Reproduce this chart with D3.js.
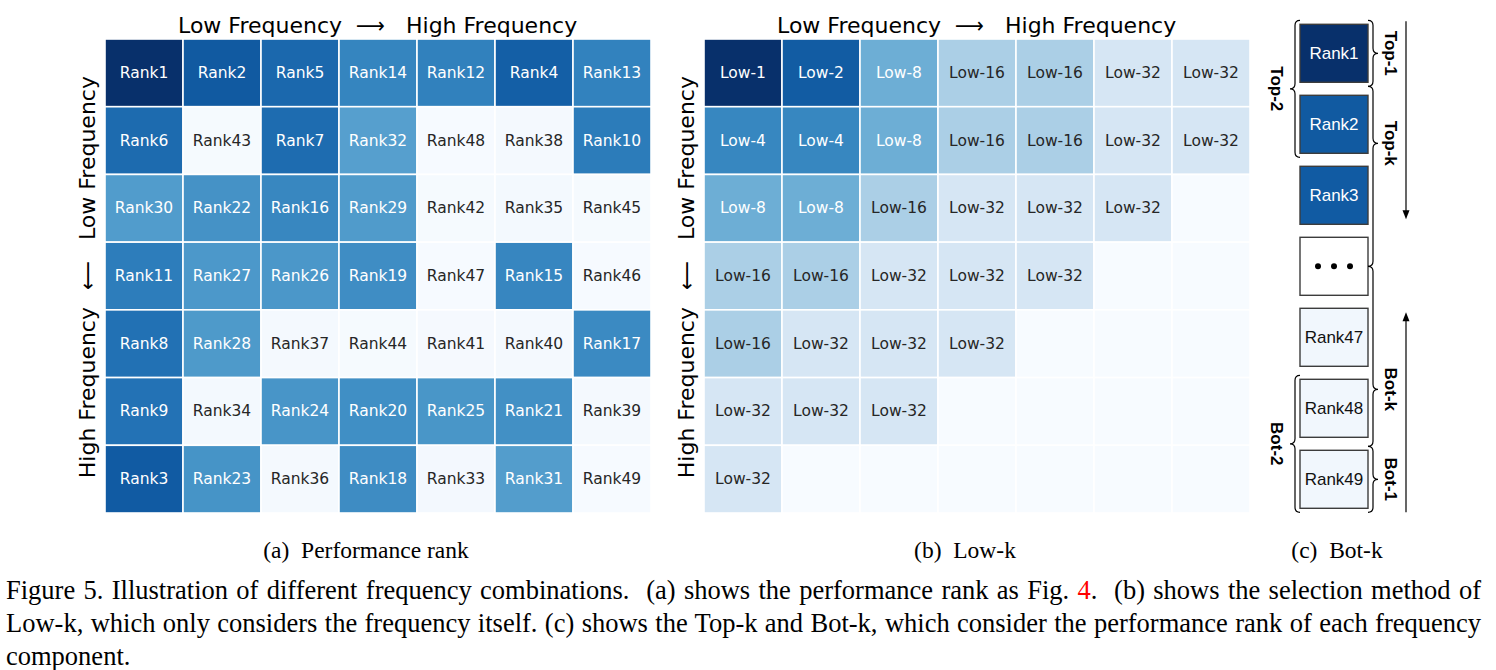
<!DOCTYPE html>
<html>
<head>
<meta charset="utf-8">
<script src="https://cdn.jsdelivr.net/npm/d3@7"></script>
<style>
  html, body { margin: 0; padding: 0; background: #fff; }
  svg { display: block; }
</style>
</head>
<body>
<script>
// ---------------- DATA ----------------
// (a) performance rank of each (row = vertical freq, col = horizontal freq)
const rankMatrix = [
  [1, 2, 5, 14, 12, 4, 13],
  [6, 43, 7, 32, 48, 38, 10],
  [30, 22, 16, 29, 42, 35, 45],
  [11, 27, 26, 19, 47, 15, 46],
  [8, 28, 37, 44, 41, 40, 17],
  [9, 34, 24, 20, 25, 21, 39],
  [3, 23, 36, 18, 33, 31, 49]
];
// colour intensity (0..1 on the Blues map) read for rank 1 .. 49
const scoreByRank = [
  1.00, 0.84, 0.835, 0.82, 0.785, 0.775, 0.77, 0.75, 0.745, 0.71,
  0.705, 0.69, 0.685, 0.675, 0.67, 0.665, 0.655, 0.645, 0.64, 0.635,
  0.63, 0.62, 0.615, 0.61, 0.605, 0.60, 0.595, 0.59, 0.585, 0.58,
  0.575, 0.565, 0.02, 0.019, 0.018, 0.017, 0.016, 0.015, 0.014, 0.013,
  0.012, 0.011, 0.01, 0.009, 0.008, 0.007, 0.006, 0.005, 0.004
];
// (b) Low-k selection (null = not selected)
const lowKMatrix = [
  [1, 2, 8, 16, 16, 32, 32],
  [4, 4, 8, 16, 16, 32, 32],
  [8, 8, 16, 32, 32, 32, null],
  [16, 16, 32, 32, 32, null, null],
  [16, 32, 32, 32, null, null, null],
  [32, 32, 32, null, null, null, null],
  [32, null, null, null, null, null, null]
];
// (c) ranked boxes
const boxRanks = [1, 2, 3, null, 47, 48, 49];
// braces: label, side, first box, last box, kind of span
const braces = [
  { label: "Top-1", side: "right", from: 0, to: 0, kind: "box" },
  { label: "Top-2", side: "left", from: 0, to: 1, kind: "box" },
  { label: "Top-k", side: "right", from: 0, to: 3, kind: "topk" },
  { label: "Bot-k", side: "right", from: 3, to: 6, kind: "botk" },
  { label: "Bot-1", side: "right", from: 6, to: 6, kind: "box" },
  { label: "Bot-2", side: "left", from: 5, to: 6, kind: "box" }
];
const axisLow = "Low Frequency", axisHigh = "High Frequency";
const subCaptions = ["(a)  Performance rank", "(b)  Low-k", "(c)  Bot-k"];
const captionLines = [
  [["Figure 5. Illustration of different frequency combinations.  (a) shows the performance rank as Fig. ", "#000"], ["4", "#ff0000"], [".  (b) shows the selection method of", "#000"]],
  [["Low-k, which only considers the frequency itself. (c) shows the Top-k and Bot-k, which consider the performance rank of each frequency", "#000"]],
  [["component.", "#000"]]
];

// ---------------- DRAW ----------------
const W = 1496, H = 670;
const svg = d3.select("body").append("svg").attr("width", W).attr("height", H);
const blues = d3.interpolateBlues;
const cellFont = "'DejaVu Sans', sans-serif";

function heatmap(x0, x1, y0, y1, matrix, valueFn, labelFn) {
  const xs = d3.scaleBand().domain(d3.range(7)).range([x0, x1]);
  const ys = d3.scaleBand().domain(d3.range(7)).range([y0, y1]);
  const g = svg.append("g");
  const cells = [];
  matrix.forEach((row, r) => row.forEach((v, c) => cells.push({ r, c, v })));
  g.selectAll("rect").data(cells).join("rect")
    .attr("x", d => xs(d.c)).attr("y", d => ys(d.r))
    .attr("width", xs.bandwidth()).attr("height", ys.bandwidth())
    .attr("fill", d => blues(valueFn(d.v)))
    .attr("stroke", "#fff").attr("stroke-width", 1.6);
  g.selectAll("text").data(cells.filter(d => labelFn(d.v) !== null)).join("text")
    .attr("x", d => xs(d.c) + xs.bandwidth() / 2)
    .attr("y", d => ys(d.r) + ys.bandwidth() / 2)
    .attr("text-anchor", "middle").attr("dominant-baseline", "central")
    .attr("font-family", cellFont).attr("font-size", 15.5)
    .attr("fill", d => valueFn(d.v) > 0.45 ? "#ffffff" : "#262626")
    .text(d => labelFn(d.v));

  // top title
  const cx = (x0 + x1) / 2;
  const tg = svg.append("g").attr("font-family", cellFont).attr("font-size", 22).attr("fill", "#000");
  tg.append("text").attr("x", cx - 36).attr("y", 33).attr("text-anchor", "end").text(axisLow);
  tg.append("text").attr("x", cx - 22).attr("y", 33).attr("textLength", 29).attr("lengthAdjust", "spacingAndGlyphs").text("\u27F6");
  tg.append("text").attr("x", cx + 28).attr("y", 33).attr("text-anchor", "start").text(axisHigh);
  // left title (rotated)
  const cy = (y0 + y1) / 2;
  const lg = svg.append("g").attr("transform", `translate(${x0 - 10},${cy}) rotate(-90)`)
    .attr("font-family", cellFont).attr("font-size", 22).attr("fill", "#000");
  lg.append("text").attr("x", -31).attr("y", 0).attr("text-anchor", "end").text(axisHigh);
  lg.append("text").attr("x", -14).attr("y", 0).attr("textLength", 29).attr("lengthAdjust", "spacingAndGlyphs").text("\u27F5");
  lg.append("text").attr("x", 36).attr("y", 0).attr("text-anchor", "start").text(axisLow);
}

heatmap(105, 651, 39, 513, rankMatrix, v => scoreByRank[v - 1], v => "Rank" + v);
heatmap(704, 1250, 39, 513, lowKMatrix,
  v => v === null ? 0 : (6 - Math.log2(v)) / 6,
  v => v === null ? null : "Low-" + v);

// ---------- panel (c) ----------
const bx = d3.scaleBand().domain(d3.range(boxRanks.length)).range([24.3, 508.3]).paddingInner(13 / 71);
const boxX = 1300, boxW = 68;
const cg = svg.append("g");
cg.selectAll("rect").data(boxRanks).join("rect")
  .attr("x", boxX).attr("y", (d, i) => bx(i))
  .attr("width", boxW).attr("height", bx.bandwidth())
  .attr("fill", d => d === null ? "#ffffff" : blues(d > 40 ? 0.03 : scoreByRank[d - 1]))
  .attr("stroke", "#3c3c3c").attr("stroke-width", 1.4);
cg.selectAll("text.box").data(boxRanks.map((d, i) => ({ d, i })).filter(o => o.d !== null)).join("text")
  .attr("class", "box")
  .attr("x", boxX + boxW / 2).attr("y", o => bx(o.i) + bx.bandwidth() / 2)
  .attr("text-anchor", "middle").attr("dominant-baseline", "central")
  .attr("font-family", "'Liberation Sans', Arial, sans-serif").attr("font-size", 17)
  .attr("fill", o => scoreByRank[o.d - 1] > 0.45 ? "#ffffff" : "#111")
  .text(o => "Rank" + o.d);
// ellipsis dots
const dotIdx = boxRanks.indexOf(null);
cg.selectAll("circle").data([-1, 0, 1]).join("circle")
  .attr("cx", k => boxX + boxW / 2 + k * 16)
  .attr("cy", bx(dotIdx) + bx.bandwidth() / 2)
  .attr("r", 3).attr("fill", "#000");

// braces
const bTop = i => bx(i) - 4, bBot = i => bx(i) + bx.bandwidth() + 4, bMid = i => bx(i) + bx.bandwidth() / 2;
function braceGeom(b) {
  if (b.kind === "topk") return { y1: bBot(b.from), y2: bMid(b.to), tip: bBot(b.from) + 57 };
  if (b.kind === "botk") return { y1: bMid(b.from), y2: bTop(b.to), tip: bTop(b.to) - 57 };
  const y1 = bTop(b.from), y2 = bBot(b.to);
  return { y1, y2, tip: (y1 + y2) / 2 };
}
function bracePath(x, s, y1, y2, tip) {
  const r = 5;
  return `M${x - s * r},${y1} Q${x},${y1} ${x},${y1 + r} L${x},${tip - r} Q${x},${tip} ${x + s * r},${tip}` +
    ` Q${x},${tip} ${x},${tip + r} L${x},${y2 - r} Q${x},${y2} ${x - s * r},${y2}`;
}
braces.forEach(b => {
  const g = braceGeom(b);
  const s = b.side === "right" ? 1 : -1;
  const x = b.side === "right" ? 1373 : 1295;
  cg.append("path").attr("d", bracePath(x, s, g.y1, g.y2, g.tip))
    .attr("fill", "none").attr("stroke", "#000").attr("stroke-width", 1.2);
  const lx = b.side === "right" ? 1390 : 1276;
  cg.append("text").attr("transform", `translate(${lx},${g.tip}) rotate(90)`)
    .attr("text-anchor", "middle").attr("dominant-baseline", "central")
    .attr("font-family", "'Liberation Sans', Arial, sans-serif").attr("font-weight", "bold")
    .attr("font-size", 17).attr("fill", "#000").text(b.label);
});
// arrows
function vArrow(x, yFrom, yTo) {
  const dir = yTo > yFrom ? 1 : -1;
  cg.append("line").attr("x1", x).attr("x2", x).attr("y1", yFrom).attr("y2", yTo - dir * 6)
    .attr("stroke", "#000").attr("stroke-width", 1.2);
  cg.append("path").attr("d", `M${x - 3.5},${yTo - dir * 9} L${x},${yTo} L${x + 3.5},${yTo - dir * 9} Z`).attr("fill", "#000");
}
vArrow(1406, bTop(0) + 1, bBot(2) - 9);
vArrow(1406, bBot(6), bTop(4) + 8);

// ---------- captions ----------
const serif = "'Liberation Serif', 'Times New Roman', serif";
const subX = [366, 965, 1337];
svg.selectAll("text.sub").data(subCaptions).join("text").attr("class", "sub")
  .attr("x", (d, i) => subX[i]).attr("y", 558).attr("text-anchor", "middle")
  .attr("font-family", serif).attr("font-size", 23.5).attr("fill", "#000")
  .style("white-space", "pre")
  .text(d => d);

const capX0 = 6, capX1 = 1481;
captionLines.forEach((parts, li) => {
  const t = svg.append("text").attr("x", capX0).attr("y", 599 + li * 33)
    .attr("font-family", serif).attr("font-size", 26.5).attr("fill", "#000")
    .style("white-space", "pre");
  parts.forEach(p => t.append("tspan").attr("fill", p[1]).text(p[0]));
  if (li < captionLines.length - 1) {
    const natural = t.node().getComputedTextLength();
    const spaces = parts.map(p => p[0]).join("").split(" ").length - 1;
    t.attr("word-spacing", (capX1 - capX0 - natural) / spaces);
  }
});
</script>
</body>
</html>
